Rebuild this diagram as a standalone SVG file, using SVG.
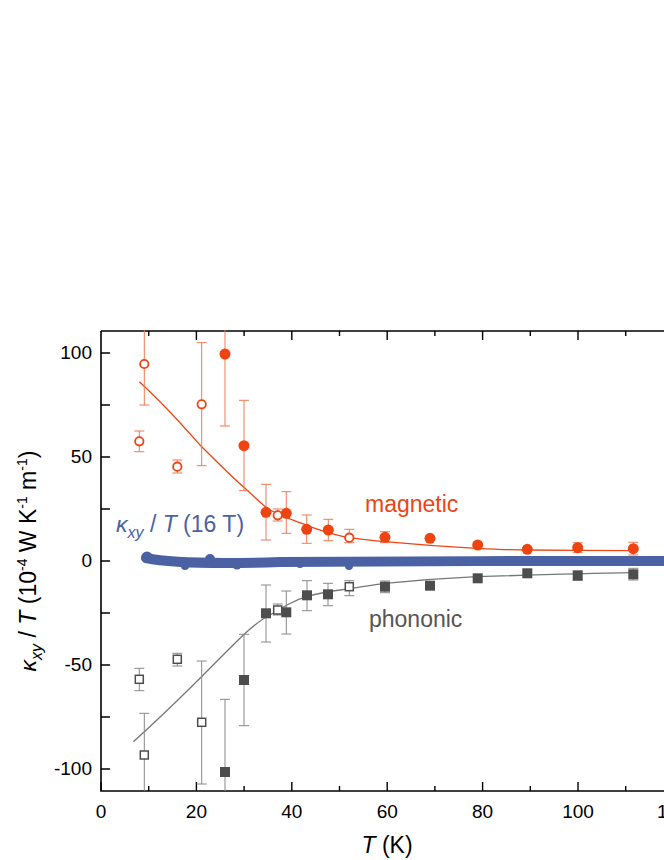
<svg xmlns="http://www.w3.org/2000/svg" width="664" height="860" viewBox="0 0 664 860">
<style>
text{font-family:"Liberation Sans",Arial,sans-serif;}
.tk{font-size:19px;fill:#000;}
.ax{stroke:#000;stroke-width:1.6;fill:none;}
.t{stroke:#000;stroke-width:1.4;}
.eo{stroke:#f07a55;stroke-width:1;fill:none;}
.eg{stroke:#888;stroke-width:1;fill:none;}
.fo{fill:#ee4411;}
.oo{fill:#fff;stroke:#ee4411;stroke-width:1.8;}
.fg{fill:#4d4d4d;}
.og{fill:#fff;stroke:#4d4d4d;stroke-width:1.5;}
</style>
<rect width="664" height="860" fill="#fff"/>
<g id="axes">
<path class="ax" d="M101,331 H670 M101,331 V791 H670"/>
<path class="t" d="M101,353h9 M101,405h9 M101,457h9 M101,509h9 M101,561h9 M101,613h9 M101,665h9 M101,717h9 M101,769h9"/>
<path class="t" d="M101,791v-9 M196.4,791v-9 M291.8,791v-9 M387.2,791v-9 M482.6,791v-9 M578,791v-9 M148.7,791v-5 M244.1,791v-5 M339.5,791v-5 M434.9,791v-5 M530.3,791v-5 M625.7,791v-5"/>
<path class="t" d="M196.4,331v9 M291.8,331v9 M387.2,331v9 M482.6,331v9 M578,331v9 M148.7,331v5 M244.1,331v5 M339.5,331v5 M434.9,331v5 M530.3,331v5 M625.7,331v5"/>
<g class="tk" text-anchor="end">
<text x="92" y="359">100</text><text x="92" y="463">50</text><text x="92" y="567">0</text><text x="92" y="671">-50</text><text x="92" y="775">-100</text>
</g>
<g class="tk" text-anchor="middle">
<text x="101" y="818">0</text><text x="196.4" y="818">20</text><text x="291.8" y="818">40</text><text x="387.2" y="818">60</text><text x="482.6" y="818">80</text><text x="578" y="818">100</text>
</g>
<text x="657" y="818" class="tk">1</text>
<text x="387" y="853" font-size="23" text-anchor="middle"><tspan font-style="italic">T</tspan> (K)</text>
<text transform="translate(36,561) rotate(-90)" font-size="23" text-anchor="middle"><tspan font-style="italic">κ</tspan><tspan font-style="italic" font-size="16" dy="6">xy</tspan><tspan dy="-6"> / </tspan><tspan font-style="italic">T</tspan> (10<tspan font-size="14" dy="-9">-4</tspan><tspan dy="9"> W K</tspan><tspan font-size="14" dy="-9">-1</tspan><tspan dy="9"> m</tspan><tspan font-size="14" dy="-9">-1</tspan><tspan dy="9">)</tspan></text>
</g>
<g id="blue-data">
<path d="M146,558 C170,563 220,564 280,562 C400,561 550,561 670,561" stroke="#4a62a4" stroke-width="10" stroke-linecap="round" fill="none"/>
<g fill="#4a62a4"><circle cx="147" cy="557" r="5.5"/><circle cx="210" cy="559" r="5"/><circle cx="237" cy="565" r="4.5"/><circle cx="185" cy="566" r="4"/><circle cx="349" cy="566" r="4"/><circle cx="300" cy="564" r="4"/></g>
<text x="116" y="532" font-size="23" fill="#4a62a4"><tspan font-style="italic">κ</tspan><tspan font-style="italic" font-size="16" dy="6">xy</tspan><tspan dy="-6"> / </tspan><tspan font-style="italic">T</tspan> (16 T)</text>
</g>
<g id="magnetic">
<path d="M139.3,381.7 C165,405 185,428 200,445 C220,465 235,480 243.3,486.7 C255,497 262,505 270,510 C285,518 292,520 300,522.7 C320,531 335,535 346.7,537.3 C360,539 375,541 385,541.7 C420,545 450,547 476.7,548.3 C500,549.5 515,550 526.7,550 C560,550.4 600,550.6 633,550.7" stroke="#ee4411" stroke-width="1.3" fill="none"/>
<path class="eo" d="M144.3,330V405m-5,0h10 M139.3,431V451.7m-5,-20.7h10m-10,20.7h10 M177.3,460V473m-5,-13h10m-10,13h10 M201.7,342.7V465.7m-5,-123h10m-10,123h10 M225,330V426m-5,0h10 M244,400.3V490.7m-5,-90.4h10m-10,90.4h10 M266,484.3V540m-5,-55.7h10m-10,55.7h10 M277.7,509V521m-5,-12h10m-10,12h10 M286.3,491.7V533.3m-5,-41.6h10m-10,41.6h10 M306.7,515V543.3m-5,-28.3h10m-10,28.3h10 M328.3,519.3V540.7m-5,-21.4h10m-10,21.4h10 M349.3,529.3V542.7m-5,-13.4h10m-10,13.4h10 M385,531.7V542.7m-5,-11h10m-10,11h10 M577.7,542.7V552.7m-5,-10h10m-10,10h10 M633.3,542.3V555m-5,-12.7h10m-10,12.7h10"/>
<g class="oo"><circle cx="144.3" cy="364" r="4.2"/><circle cx="139.3" cy="441.3" r="4.2"/><circle cx="177.3" cy="466.7" r="4.2"/><circle cx="201.7" cy="404.3" r="4.2"/><circle cx="277.7" cy="515.3" r="4.2"/><circle cx="349.3" cy="537.7" r="4.2"/></g>
<g class="fo"><circle cx="225" cy="354" r="5.5"/><circle cx="244" cy="445.7" r="5.5"/><circle cx="266" cy="512.3" r="5.5"/><circle cx="286.3" cy="513.3" r="5.5"/><circle cx="306.7" cy="529.3" r="5.5"/><circle cx="328.3" cy="530" r="5.5"/><circle cx="385" cy="537.3" r="5.5"/><circle cx="430" cy="538.3" r="5.5"/><circle cx="477.7" cy="545" r="5.5"/><circle cx="527.3" cy="549.3" r="5.5"/><circle cx="577.7" cy="547.7" r="5.5"/><circle cx="633.3" cy="548.7" r="5.5"/></g>
<text x="365" y="512" font-size="23" fill="#ee4411">magnetic</text>
</g>
<g id="phononic">
<path d="M133.3,741.7 C160,718 185,693 200,678.3 C215,663 230,648 243.3,635 C252,627 262,619 270,615 C285,606 295,600 306.7,596.7 C320,593 330,591 340,590 C355,588 375,584.5 385,583.3 C420,580 450,578 476.7,576.7 C530,575 580,573.5 633.3,572.7" stroke="#777" stroke-width="1.3" fill="none"/>
<path class="eg" d="M139.3,668.3V690.7m-5,-22.4h10m-10,22.4h10 M144.3,713.3V791m-5,-77.7h10 M177.3,653.3V666m-5,-12.7h10m-10,12.7h10 M201.7,661V784m-5,-123h10m-10,123h10 M225,699.3V791m-5,-91.7h10 M244,634.3V725.7m-5,-91.4h10m-10,91.4h10 M266,585V642m-5,-57h10m-10,57h10 M277.7,604V615m-5,-11h10m-10,11h10 M286.3,591V634m-5,-43h10m-10,43h10 M307,580.7V610.7m-5,-30h10m-10,30h10 M328,583.3V605.7m-5,-22.4h10m-10,22.4h10 M349.3,580.7V595.7m-5,-15h10m-10,15h10 M385,581V592.7m-5,-11.7h10m-10,11.7h10 M577.7,570.7V580m-5,-9.3h10m-10,9.3h10 M633.3,568.3V580m-5,-11.7h10m-10,11.7h10"/>
<g class="og"><rect x="135.3" y="675.3" width="8" height="8"/><rect x="140.3" y="751" width="8" height="8"/><rect x="173.3" y="655.3" width="8" height="8"/><rect x="197.7" y="718.3" width="8" height="8"/><rect x="273.7" y="606" width="8" height="8"/><rect x="345.3" y="582.7" width="8" height="8"/></g>
<g class="fg"><rect x="220" y="767" width="10" height="10"/><rect x="239" y="675" width="10" height="10"/><rect x="261" y="608.3" width="10" height="10"/><rect x="281.3" y="607.3" width="10" height="10"/><rect x="302" y="590.3" width="10" height="10"/><rect x="323" y="589.3" width="10" height="10"/><rect x="380" y="581.7" width="10" height="10"/><rect x="425" y="580.7" width="10" height="10"/><rect x="472.7" y="573.3" width="10" height="10"/><rect x="522.3" y="568.3" width="10" height="10"/><rect x="572.7" y="570.7" width="10" height="10"/><rect x="628.3" y="569.3" width="10" height="10"/></g>
<text x="369" y="627" font-size="23" fill="#555">phononic</text>
</g>
</svg>
